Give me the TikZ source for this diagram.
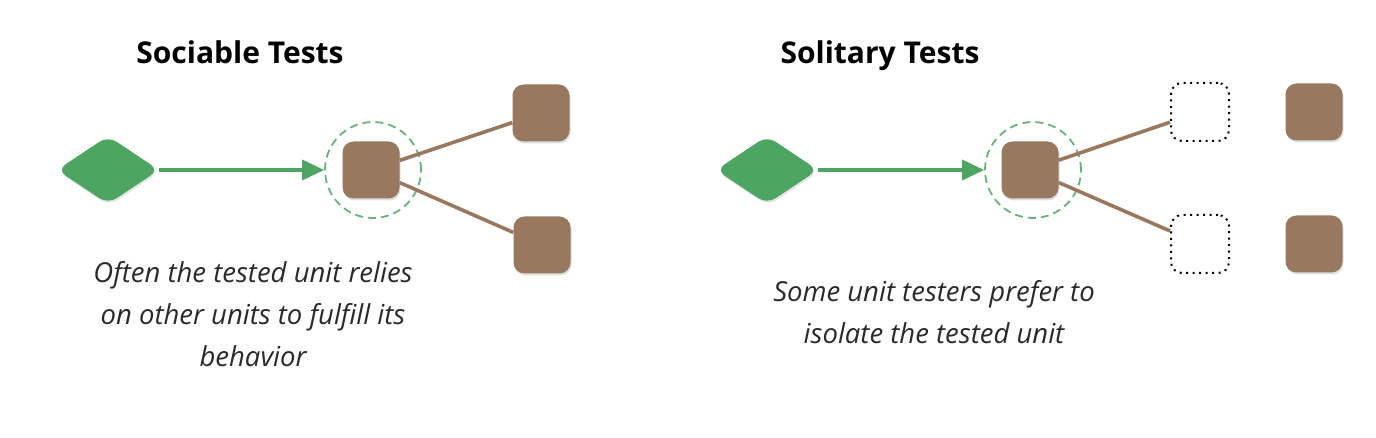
\documentclass[tikz,border=0pt]{standalone}
\usepackage{fontspec}
\setmainfont{Open Sans}
\usetikzlibrary{positioning,arrows.meta,shapes.geometric,shadows}

\definecolor{testgreen}{HTML}{4CA661}
\definecolor{unitbrown}{HTML}{98795F}
\definecolor{captiongray}{HTML}{2A2A2A}

\tikzset{
  driver/.style={diamond,fill=testgreen,draw=none,minimum width=102pt,minimum height=68pt,inner sep=0pt,rounded corners=10pt,
    drop shadow={opacity=0.2,shadow xshift=1pt,shadow yshift=-2pt}},
  unit/.style={rectangle,fill=unitbrown,draw=none,minimum width=57pt,minimum height=57pt,rounded corners=11pt,
    drop shadow={opacity=0.25,shadow xshift=1pt,shadow yshift=-2pt}},
  stub/.style={rectangle,draw=black,dash pattern=on 2pt off 4.5pt,line width=2pt,minimum width=58pt,minimum height=58pt,rounded corners=11pt},
  focus/.style={circle,draw=testgreen!85,dash pattern=on 8pt off 5pt,line width=1.8pt,minimum size=96pt,inner sep=0pt},
  calls/.style={-{Triangle[length=22pt,width=20pt]},draw=testgreen,line width=3.6pt},
  dep/.style={draw=unitbrown,line width=3.6pt},
  heading/.style={font=\fontsize{30}{34}\selectfont\bfseries,anchor=base},
  caption/.style={font=\fontsize{27.5}{42}\selectfont\itshape,text=captiongray,align=center}
}

\begin{document}
\begin{tikzpicture}[x=1pt,y=-1pt]
		\useasboundingbox (0,0) rectangle (1376,438);

		%sociable tests
		\node[heading] (t1) at (240,64) {Sociable Tests};
		\node[driver] (d1) at (108,170) {};
		\node[focus] (c1) at (373,170) {};
		\node[unit] (u1) at (371,170) {};
		\node[unit] (n1) at (541,113) {};
		\node[unit] (n2) at (542,245) {};
		\node[caption] (p1) at (253,314) {Often the tested unit relies\\on other units to fulfill its\\behavior};

		%edges
		\draw[calls] (d1) -- (c1);
		\draw[dep] (u1) -- (n1);
		\draw[dep] (u1) -- (n2);

		%solitary tests
		\node[heading] (t2) at (880,64) {Solitary Tests};
		\node[driver] (d2) at (767,170) {};
		\node[focus] (c2) at (1033,170) {};
		\node[unit] (u2) at (1030,170) {};
		\node[stub] (s1) at (1200,112) {};
		\node[stub] (s2) at (1200,244) {};
		\node[unit] (m1) at (1314,112) {};
		\node[unit] (m2) at (1314,244) {};
		\node[caption] (p2) at (934,312) {Some unit testers prefer to\\isolate the tested unit};

		%edges
		\draw[calls] (d2) -- (c2);
		\draw[dep] (u2) -- (s1);
		\draw[dep] (u2) -- (s2);

\end{tikzpicture}
\end{document}
